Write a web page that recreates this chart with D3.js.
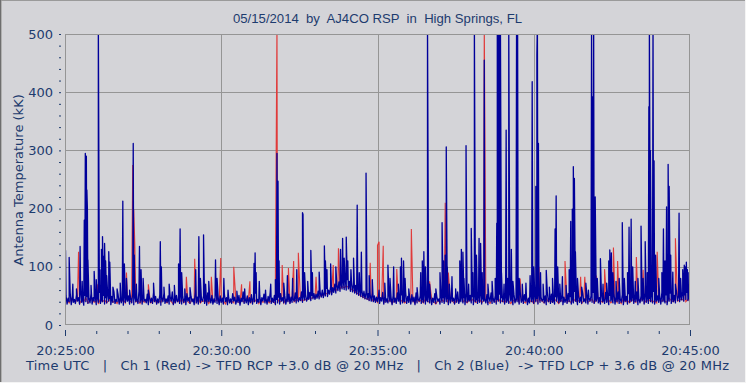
<!DOCTYPE html>
<html><head><meta charset="utf-8">
<script src="https://cdn.jsdelivr.net/npm/d3@7"></script>
<style>
html,body{margin:0;padding:0;background:#d4d4d8;}
svg{display:block;}
text{font-family:"DejaVu Sans",Verdana,sans-serif;fill:#1d3b6e;}
</style></head>
<body>
<svg id="chart" width="746" height="383"></svg>
<script>
// ---- DATA ----
const title = "05/15/2014  by  AJ4CO RSP  in  High Springs, FL";
const yLabel = "Antenna Temperature (kK)";
const caption = "Time UTC   |   Ch 1 (Red) -> TFD RCP +3.0 dB @ 20 MHz   |   Ch 2 (Blue)  -> TFD LCP + 3.6 dB @ 20 MHz";
const xTickLabels = ["20:25:00","20:30:00","20:35:00","20:40:00","20:45:00"];
const xTickSeconds = [0,300,600,900,1200];
const yTicks = [0,100,200,300,400,500];

// Ch 2 (Blue) background level, one value every 2 s from 20:25:00 (one row = one minute)
const blueStep = 2;
const blueBase = [
38,50,36,46,40,55,35,48,39,44,37,52,41,47,36,58,39,45,34,51,40,49,37,46,38,54,36,47,41,50,
35,48,39,56,37,45,40,51,36,47,38,53,41,46,35,49,39,57,37,44,40,52,36,48,38,45,34,55,39,47,
41,50,36,46,38,54,35,49,40,45,37,58,39,47,36,51,41,44,38,53,35,48,39,46,37,56,40,49,36,45,
38,52,34,47,40,55,37,45,39,50,36,48,41,57,35,46,38,51,40,44,37,53,36,49,39,46,35,54,41,47,
37,49,40,45,35,56,38,48,36,52,39,44,41,50,37,47,34,55,40,46,38,51,36,45,39,58,37,48,35,50,
39,46,36,53,40,47,35,49,38,45,37,54,41,48,36,44,39,51,34,46,40,57,37,45,38,50,35,47,39,52,
36,48,40,55,37,44,39,50,35,47,41,53,38,45,36,49,40,56,37,46,39,51,35,44,38,48,36,54,41,47,
38,50,36,46,40,53,37,48,39,45,41,55,38,49,40,47,42,57,39,50,43,52,41,48,44,56,42,51,45,54,
44,53,46,58,45,55,48,60,47,57,50,63,49,60,53,66,52,64,56,70,55,68,59,74,58,72,62,78,61,80,
60,78,62,75,58,76,57,70,55,68,53,66,51,62,49,60,47,58,45,56,44,54,42,52,41,55,40,50,39,48,
40,51,37,47,41,56,36,49,39,45,38,53,40,48,35,50,39,46,37,55,41,47,36,52,38,44,40,57,37,49,
39,46,36,52,40,48,35,55,38,45,41,50,37,47,39,58,36,44,40,51,38,49,35,46,39,54,37,48,41,45,
36,50,39,47,37,56,40,45,35,52,38,48,41,46,36,53,39,57,37,44,40,50,38,47,35,55,39,46,41,51,
38,49,35,54,40,46,37,51,39,58,36,47,41,45,38,52,35,48,40,55,37,46,39,50,36,44,41,53,38,47,
40,47,36,51,39,45,37,56,41,48,35,53,38,46,40,50,36,57,39,44,37,52,41,49,35,46,38,54,40,48,
37,52,40,46,36,55,39,48,41,45,38,50,35,57,40,47,37,53,39,44,36,49,41,56,38,46,40,51,35,48,
39,45,37,54,40,49,36,47,38,58,41,46,35,51,39,48,37,55,40,45,38,52,36,47,41,50,39,56,37,46,
41,50,38,47,36,53,40,45,37,56,39,48,35,51,41,46,38,54,36,49,40,57,37,45,39,52,35,47,41,49,
36,54,39,46,41,51,37,48,40,57,35,45,38,50,41,47,36,55,39,49,37,46,40,53,38,58,36,47,41,50,
39,48,36,56,40,46,38,52,35,49,41,55,37,47,40,51,38,58,42,50,40,54,43,57,41,52,44,56,42,50,
46];

// Ch 2 (Blue) bursts: [seconds after 20:25:00, kK]
const blueBursts = [
[1,128],[8,116],[15,70],[22,62],[29,135],[33,75],[37,180],[39,295],[41,290],[42,232],[43,200],[44,112],
[50,68],[56,92],[60,78],[64,520],[67,95],[70,130],[72,152],[74,118],[76,140],[78,110],[80,85],[84,126],
[86,108],[92,65],[100,62],[106,72],[111,213],[114,105],[118,80],[124,60],[131,312],[133,120],[137,70],
[143,135],[146,95],[150,80],[160,60],[170,72],[183,143],[185,100],[190,65],[200,70],[210,68],[218,105],
[221,165],[224,90],[230,62],[240,64],[251,95],[257,152],[260,80],[266,155],[270,70],[276,75],[289,112],
[292,80],[305,80],[313,60],[330,58],[345,62],[363,106],[365,124],[367,90],[373,75],[385,60],[395,70],
[404,78],[407,295],[409,247],[411,110],[420,72],[427,85],[437,80],[445,95],[456,193],[457,190],[460,90],
[466,75],[472,128],[475,90],[488,91],[498,136],[500,110],[503,95],[510,105],[520,100],[529,130],[533,149],
[536,115],[540,151],[543,110],[549,95],[554,115],[561,206],[565,90],[569,125],[578,261],[584,85],[590,78],
[603,60],[614,72],[620,103],[624,80],[631,100],[640,70],[644,100],[646,115],[650,110],[653,80],[660,62],
[676,64],[683,90],[686,110],[689,126],[692,100],[696,520],[700,70],[712,62],[720,90],[724,176],[727,110],
[730,120],[732,306],[734,100],[738,70],[743,83],[750,62],[758,110],[761,130],[764,125],[766,80],[770,308],
[775,70],[780,166],[783,90],[786,520],[790,120],[795,149],[798,140],[801,90],[805,455],[812,70],[820,75],
[826,80],[829,175],[830,520],[832,520],[834,520],[836,520],[838,90],[843,70],[847,335],[850,80],[852,520],
[857,130],[860,75],[867,520],[869,520],[872,80],[878,70],[885,72],[893,85],[897,418],[900,100],[904,238],
[906,464],[907,520],[909,312],[913,90],[918,70],[924,94],[930,65],[936,80],[941,165],[943,222],[946,100],
[950,70],[955,83],[962,68],[968,95],[971,178],[974,199],[976,272],[978,252],[980,126],[984,80],[992,65],
[1000,72],[1005,60],[1010,70],[1011,520],[1013,392],[1015,520],[1018,220],[1022,80],[1028,114],[1033,70],
[1040,72],[1044,110],[1046,129],[1049,124],[1052,90],[1058,75],[1064,80],[1070,176],[1074,80],[1080,90],
[1083,168],[1087,182],[1090,100],[1095,75],[1100,80],[1106,170],[1110,80],[1114,143],[1118,90],[1121,375],
[1122,520],[1124,300],[1129,520],[1131,282],[1134,120],[1140,80],[1146,90],[1149,165],[1152,110],[1155,203],
[1158,276],[1160,238],[1163,120],[1167,91],[1172,70],[1179,192],[1182,80],[1186,95],[1189,103],[1191,100],
[1193,108],[1195,95],[1198,90]
];

// Ch 1 (Red) background level, one value every 4 s from 20:25:00
const redStep = 4;
const redBase = [
40,44,38,46,41,39,45,37,43,40,47,38,42,44,39,41,36,45,40,43,
38,42,46,39,41,37,44,40,43,38,45,41,39,47,40,42,37,44,39,41,
43,38,40,45,37,42,39,46,41,38,44,40,36,43,41,39,45,38,42,40,
37,44,41,39,46,38,42,40,43,37,45,39,41,44,38,40,42,36,45,39,
41,38,44,40,37,43,39,46,41,38,42,40,45,37,43,39,41,44,38,42,
40,37,45,39,42,38,44,41,39,46,40,43,42,45,41,44,43,47,45,48,
46,49,48,52,50,55,53,58,56,61,59,64,62,66,64,67,65,63,60,58,
55,53,50,48,46,45,43,46,41,44,39,42,45,38,43,40,44,37,42,39,
45,40,43,38,41,46,39,42,37,44,40,43,38,45,41,39,44,40,36,42,
39,43,40,45,38,42,41,37,44,39,46,40,42,38,43,41,45,39,40,44,
38,42,45,40,37,43,41,39,46,40,42,38,44,41,37,43,40,45,39,42,
41,38,44,40,42,37,45,39,43,41,38,46,40,42,39,44,41,37,43,40,
44,39,42,38,45,41,40,43,37,42,46,39,41,44,38,43,40,42,39,45,
40,43,38,42,44,39,41,37,45,40,42,38,44,41,39,43,40,46,38,42,
41,44,39,42,38,45,40,43,41,39,46,42,40,44,41,43,45,42,40,44,
42];

// Ch 1 (Red) bursts: [seconds after 20:25:00, kK]
const redBursts = [
[26,126],[62,70],[118,90],[130,275],[132,198],[134,140],[160,70],[233,83],[249,114],[281,83],[299,115],
[324,100],[339,70],[355,75],[404,86],[407,520],[417,103],[429,98],[439,110],[448,124],[482,83],[515,103],
[525,132],[586,107],[600,137],[603,143],[611,136],[637,96],[665,165],[700,75],[730,210],[736,90],[760,90],
[805,520],[874,80],[910,100],[960,110],[990,83],[998,83],[1020,85],[1036,96],[1053,133],[1061,110],
[1097,117],[1110,95],[1137,126],[1172,149],[1190,90]
];

// ---- CHART ----
const W = 746, H = 383;
const svg = d3.select("#chart");
const L = 65, R = 690, T = 34, B = 325;
const x = d3.scaleLinear().domain([0,1200]).range([L,R]);
const y = d3.scaleLinear().domain([0,500]).range([B,T]);

// window frame
svg.append("line").attr("x1",0).attr("x2",W).attr("y1",0.5).attr("y2",0.5).attr("stroke","#9a9a9a");
svg.append("line").attr("x1",0.5).attr("x2",0.5).attr("y1",0).attr("y2",H).attr("stroke","#6e6e6e");
svg.append("line").attr("x1",1.5).attr("x2",1.5).attr("y1",1).attr("y2",H).attr("stroke","#b0b0b0");
svg.append("line").attr("x1",W-0.5).attr("x2",W-0.5).attr("y1",0).attr("y2",H).attr("stroke","#f4f4f4");
svg.append("line").attr("x1",0).attr("x2",W).attr("y1",H-0.5).attr("y2",H-0.5).attr("stroke","#f4f4f4");

// title
svg.append("text").attr("x",(233+522)/2).attr("y",23).attr("text-anchor","middle")
  .style("font-family",'"Liberation Sans Narrow","Arial Narrow","Liberation Sans",sans-serif')
  .style("font-size","13px").style("white-space","pre")
  .attr("textLength",289).attr("lengthAdjust","spacingAndGlyphs")
  .text(title);

// grid
const grid = svg.append("g");
grid.selectAll("line.v").data(xTickSeconds.slice(1,-1)).join("line")
  .attr("x1",d=>Math.round(x(d))+0.5).attr("x2",d=>Math.round(x(d))+0.5)
  .attr("y1",T).attr("y2",B).attr("stroke","#959595");
grid.selectAll("line.h").data(yTicks.slice(1,-1)).join("line")
  .attr("x1",L).attr("x2",R)
  .attr("y1",d=>Math.round(y(d))+0.5).attr("y2",d=>Math.round(y(d))+0.5).attr("stroke","#959595");

// series
function merge(base, step, bursts){
  const pts = base.map((v,i)=>[i*step, v, 0]);
  bursts.forEach(b=>pts.push([b[0], b[1], 1]));
  pts.sort((a,b)=>a[0]-b[0] || a[2]-b[2]);
  return pts;
}
svg.append("clipPath").attr("id","clip").append("rect")
  .attr("x",L).attr("y",T).attr("width",R-L).attr("height",B-T);
const line = d3.line().x(d=>x(d[0])).y(d=>y(d[1]));
const plot = svg.append("g").attr("clip-path","url(#clip)");
plot.append("path").attr("d",line(merge(redBase,redStep,redBursts)))
  .attr("fill","none").attr("stroke","#e03a3a").attr("stroke-width",1.1);
plot.append("path").attr("d",line(merge(blueBase,blueStep,blueBursts)))
  .attr("fill","none").attr("stroke","#00009a").attr("stroke-width",1.3).attr("stroke-linejoin","round");

// plot border
svg.append("rect").attr("x",L+0.5).attr("y",T+0.5).attr("width",R-L-1).attr("height",B-T-1)
  .attr("fill","none").attr("stroke","#959595");

// y axis
const yMinor = d3.range(0,501,20).filter(v=>v%100!==0);
svg.append("g").attr("transform",`translate(61,0)`)
  .call(d3.axisLeft(y).tickValues(yTicks).tickSize(2).tickPadding(6).tickFormat(d3.format("d")));
svg.append("g").attr("transform",`translate(61,0)`)
  .call(d3.axisLeft(y).tickValues(yMinor).tickSize(2).tickFormat(""));

// x axis
svg.append("g").attr("transform",`translate(0,330)`)
  .call(d3.axisBottom(x).tickValues(xTickSeconds).tickSize(6).tickPadding(10)
    .tickFormat((d,i)=>xTickLabels[i]));
const xMinor = d3.range(60,1200,60).filter(v=>v%300!==0);
svg.append("g").attr("transform",`translate(0,331)`)
  .call(d3.axisBottom(x).tickValues(xMinor).tickSize(3).tickFormat(""));

svg.selectAll(".domain").remove();
svg.selectAll(".tick line").attr("stroke","#1d3b6e");
svg.selectAll(".tick text").style("font-family",'"DejaVu Sans",Verdana,sans-serif')
  .style("font-size","13px").attr("fill","#1d3b6e");

// y label
svg.append("text").attr("transform","translate(23,180) rotate(-90)")
  .attr("text-anchor","middle").style("font-size","13px").text(yLabel);

// caption
svg.append("text").attr("x",26).attr("y",370).style("font-size","13px")
  .style("white-space","pre").attr("textLength",703).attr("lengthAdjust","spacing").text(caption);
</script>
</body></html>
